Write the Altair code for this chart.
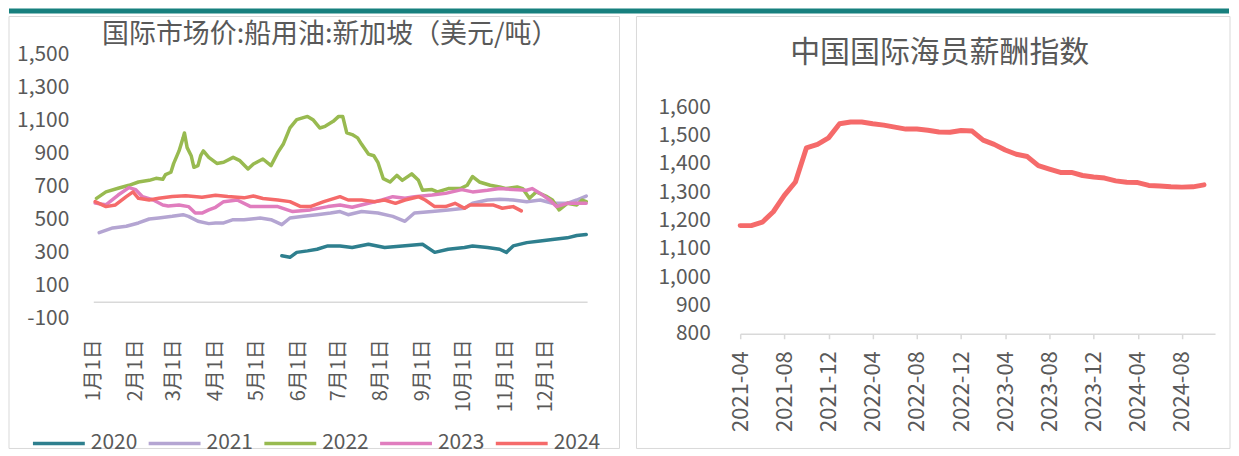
import json
import altair as alt
import pandas as pd

FONT = "Noto Sans CJK SC"
TXT = "#595959"
GRID = "#D9D9D9"

# ---------------- left chart data: Singapore bunker price by year ----------------
years = ["2020", "2021", "2022", "2023", "2024"]
year_colors = ["#2E7F8E", "#B4A5D2", "#98BA50", "#E07DBE", "#F56A6A"]

days_2020 = [139, 145, 150, 158, 165, 173, 182, 191, 203, 215, 228, 243, 252, 262, 274, 280, 291, 300, 305, 310, 320, 330, 339, 350, 357, 364]
vals_2020 = [281, 272, 302, 311, 321, 341, 341, 331, 351, 331, 341, 351, 302, 321, 331, 341, 331, 321, 302, 341, 361, 371, 380, 390, 404, 410]

days_2021 = [4, 14, 24, 33, 41, 48, 58, 66, 70, 77, 85, 90, 96, 103, 111, 123, 131, 139, 145, 155, 165, 175, 182, 188, 198, 210, 221, 230, 237, 250, 262, 274, 280, 291, 300, 310, 320, 330, 339, 350, 357, 364]
vals_2021 = [421, 450, 460, 480, 504, 510, 520, 530, 520, 490, 476, 480, 480, 500, 500, 510, 500, 470, 510, 520, 530, 540, 549, 530, 549, 540, 520, 490, 540, 549, 559, 569, 599, 619, 623, 619, 609, 619, 599, 599, 619, 643]

days_2022 = [2, 9, 18, 26, 33, 41, 46, 51, 53, 57, 59, 63, 66, 67, 69, 72, 74, 77, 79, 81, 85, 91, 96, 103, 108, 114, 118, 125, 131, 136, 140, 145, 150, 158, 162, 167, 171, 177, 181, 184, 187, 191, 195, 198, 203, 207, 210, 214, 219, 224, 228, 235, 240, 243, 250, 254, 262, 271, 276, 280, 285, 293, 300, 305, 313, 317, 322, 327, 335, 339, 344, 350, 357, 361, 364]
vals_2022 = [629, 668, 690, 708, 728, 738, 750, 744, 773, 787, 839, 916, 995, 1025, 936, 887, 817, 827, 887, 916, 877, 840, 847, 877, 857, 807, 837, 867, 827, 906, 956, 1055, 1105, 1125, 1105, 1055, 1065, 1095, 1125, 1125, 1025, 1015, 995, 956, 897, 887, 847, 748, 728, 768, 738, 777, 738, 678, 682, 668, 688, 688, 708, 761, 728, 708, 698, 688, 698, 688, 629, 668, 639, 619, 559, 599, 589, 619, 609]

days_2023 = [1, 9, 18, 26, 31, 36, 44, 51, 55, 63, 70, 75, 80, 85, 90, 96, 106, 116, 121, 128, 136, 147, 160, 173, 182, 191, 203, 213, 221, 230, 237, 250, 260, 272, 280, 291, 300, 310, 320, 324, 330, 337, 342, 350, 357, 364]
vals_2023 = [600, 590, 649, 694, 682, 639, 619, 589, 583, 589, 579, 540, 540, 559, 575, 609, 619, 579, 579, 579, 579, 549, 559, 579, 589, 575, 599, 619, 639, 629, 639, 649, 659, 682, 668, 678, 688, 682, 678, 688, 659, 619, 579, 599, 599, 599]

days_2024 = [1, 9, 16, 24, 29, 33, 41, 48, 58, 68, 80, 90, 99, 111, 118, 125, 136, 145, 153, 160, 170, 182, 188, 198, 208, 215, 223, 230, 240, 245, 252, 260, 267, 274, 278, 285, 295, 302, 310, 316]
vals_2024 = [609, 579, 589, 639, 668, 629, 619, 629, 640, 645, 636, 648, 640, 632, 643, 628, 619, 609, 579, 579, 609, 639, 619, 619, 609, 619, 599, 619, 639, 619, 579, 579, 599, 569, 589, 589, 589, 569, 579, 553]

month_ticks = [0, 31, 59, 90, 120, 151, 181, 212, 243, 273, 304, 334]
month_labels = ["1月1日", "2月1日", "3月1日", "4月1日", "5月1日", "6月1日",
                "7月1日", "8月1日", "9月1日", "10月1日", "11月1日", "12月1日"]
price_ticks = [-100, 100, 300, 500, 700, 900, 1100, 1300, 1500]

# ---------------- right chart data: seafarer wage index ----------------
wage_months = ["2021-04", "2021-05", "2021-06", "2021-07", "2021-08", "2021-09", "2021-10", "2021-11", "2021-12",
               "2022-01", "2022-02", "2022-03", "2022-04", "2022-05", "2022-06", "2022-07", "2022-08", "2022-09",
               "2022-10", "2022-11", "2022-12", "2023-01", "2023-02", "2023-03", "2023-04", "2023-05", "2023-06",
               "2023-07", "2023-08", "2023-09", "2023-10", "2023-11", "2023-12", "2024-01", "2024-02", "2024-03",
               "2024-04", "2024-05", "2024-06", "2024-07", "2024-08", "2024-09", "2024-10"]
wage_values = [1182, 1182, 1194, 1231, 1289, 1336, 1457, 1469, 1492,
               1542, 1548, 1548, 1542, 1537, 1530, 1523, 1523, 1519,
               1513, 1512, 1518, 1516, 1484, 1469, 1449, 1434, 1426,
               1394, 1382, 1370, 1370, 1359, 1354, 1350, 1340, 1335,
               1334, 1324, 1322, 1319, 1318, 1319, 1326]
wage_tick_labels = ["2021-04", "2021-08", "2021-12", "2022-04", "2022-08", "2022-12",
                    "2023-04", "2023-08", "2023-12", "2024-04", "2024-08"]
wage_ticks = [800, 900, 1000, 1100, 1200, 1300, 1400, 1500, 1600]


def month_index(s):
    y, m = s.split("-")
    return (int(y) - 2021) * 12 + (int(m) - 4)


rows = []
for yr, ds, vs in zip(years,
                      [days_2020, days_2021, days_2022, days_2023, days_2024],
                      [vals_2020, vals_2021, vals_2022, vals_2023, vals_2024]):
    for d, v in zip(ds, vs):
        rows.append({"year": yr, "day": d, "price": v})
oil = pd.DataFrame(rows)

wage = pd.DataFrame({"month": wage_months, "value": wage_values})
wage["idx"] = [month_index(m) for m in wage_months]
wage_tick_idx = [month_index(m) for m in wage_tick_labels]

one = alt.Data(values=[{"k": 1}])
num_expr = "replace(format(datum.value, ',.0f'), '\u2212', '-')"

# shared vertical frame (relative to each panel's view top)
BOX_TOP, BOX_BOTTOM = -38, 395

# ---------------- left panel ----------------
W1, H1 = 495, 265
left_label_expr = "{}[indexof({}, datum.value)]".format(
    json.dumps(month_labels, ensure_ascii=False), json.dumps(month_ticks))

left_y_scale = alt.Scale(domain=[-100, 1500], nice=False, zero=False)
left_y_axis = alt.Axis(values=price_ticks, labelExpr=num_expr, labelFont=FONT, labelFontSize=21,
                       labelColor=TXT, domain=False, ticks=False, grid=False,
                       labelOverlap=False, labelPadding=25, title=None)

left_box = alt.Chart(one).mark_rect(fill="transparent", stroke=GRID, strokeWidth=1).encode(
    x=alt.value(-85), x2=alt.value(527), y=alt.value(BOX_TOP), y2=alt.value(BOX_BOTTOM))

left_title = alt.Chart(one).mark_text(
    text="国际市场价:船用油:新加坡（美元/吨）", font=FONT, fontSize=27, color=TXT,
    align="center", baseline="middle").encode(x=alt.value(237), y=alt.value(-19))

zero_rule = alt.Chart(one).mark_rule(color=GRID, strokeWidth=1.5).encode(
    y=alt.YDatum(0, type="quantitative", scale=left_y_scale, axis=left_y_axis))

left_lines = alt.Chart(oil).mark_line(strokeJoin="round", strokeCap="round").encode(
    x=alt.X("day:Q", scale=alt.Scale(domain=[0, 365], nice=False, zero=False),
            axis=alt.Axis(values=month_ticks, labelExpr=left_label_expr, labelAngle=-90,
                          labelFont=FONT, labelFontSize=20, labelColor=TXT, domain=False,
                          ticks=False, grid=False, labelPadding=20, labelOverlap=False,
                          title=None)),
    y=alt.Y("price:Q", scale=left_y_scale, axis=left_y_axis),
    color=alt.Color("year:N", scale=alt.Scale(domain=years, range=year_colors),
                    legend=alt.Legend(orient="none", legendX=-63, legendY=408, direction="horizontal",
                                      title=None, symbolType="stroke", symbolSize=2704,
                                      symbolStrokeWidth=4, labelFont=FONT, labelFontSize=21,
                                      labelColor=TXT, labelOffset=4, columnPadding=4)),
    strokeWidth=alt.StrokeWidth("year:N", scale=alt.Scale(domain=years, range=[3.5, 3.5, 3.5, 3.5, 5]),
                                legend=None),
)

left = alt.layer(left_box, left_title, left_lines, zero_rule).properties(width=W1, height=H1)

# ---------------- right panel ----------------
W2, H2 = 476, 280
right_label_expr = "{}[indexof({}, datum.value)]".format(
    json.dumps(wage_tick_labels), json.dumps(wage_tick_idx))

right_box = alt.Chart(one).mark_rect(fill="transparent", stroke=GRID, strokeWidth=1).encode(
    x=alt.value(-104), x2=alt.value(491), y=alt.value(BOX_TOP), y2=alt.value(BOX_BOTTOM))

right_title = alt.Chart(one).mark_text(
    text="中国国际海员薪酬指数", font=FONT, fontSize=30, color=TXT,
    align="center", baseline="middle").encode(x=alt.value(200), y=alt.value(-1))

right_line = alt.Chart(wage).mark_line(color="#F56A6A", strokeWidth=5, strokeJoin="round",
                                       strokeCap="round").encode(
    x=alt.X("idx:Q", scale=alt.Scale(domain=[0, 43], nice=False, zero=False),
            axis=alt.Axis(values=wage_tick_idx, labelExpr=right_label_expr, labelAngle=-90,
                          labelFont=FONT, labelFontSize=22, labelColor=TXT, domainColor=GRID,
                          domainWidth=1.5, tickColor=GRID, tickSize=5, tickWidth=1.5,
                          grid=False, labelPadding=12, labelOverlap=False, title=None)),
    y=alt.Y("value:Q", scale=alt.Scale(domain=[800, 1600], range=[H2, 53], nice=False, zero=False),
            axis=alt.Axis(values=wage_ticks, labelExpr=num_expr, labelFont=FONT, labelFontSize=21,
                          labelColor=TXT, domain=False, ticks=False, grid=False,
                          labelOverlap=False, labelPadding=30, title=None)),
)

right = alt.layer(right_box, right_title, right_line).properties(width=W2, height=H2)

# ---------------- top band ----------------
band = alt.Chart(one).mark_rect(color="#17807E").encode(
    x=alt.value(-85), x2=alt.value(1138), y=alt.value(0), y2=alt.value(5)
).properties(width=W1, height=5)

chart = alt.vconcat(
    band,
    alt.hconcat(left, right, spacing=15),
    spacing=2,
).properties(
    padding={"left": 0, "top": 0, "right": 0, "bottom": 0},
    background="white",
).configure_view(stroke=None)

chart.save("out.html", embed_options={"renderer": "svg", "actions": False})
